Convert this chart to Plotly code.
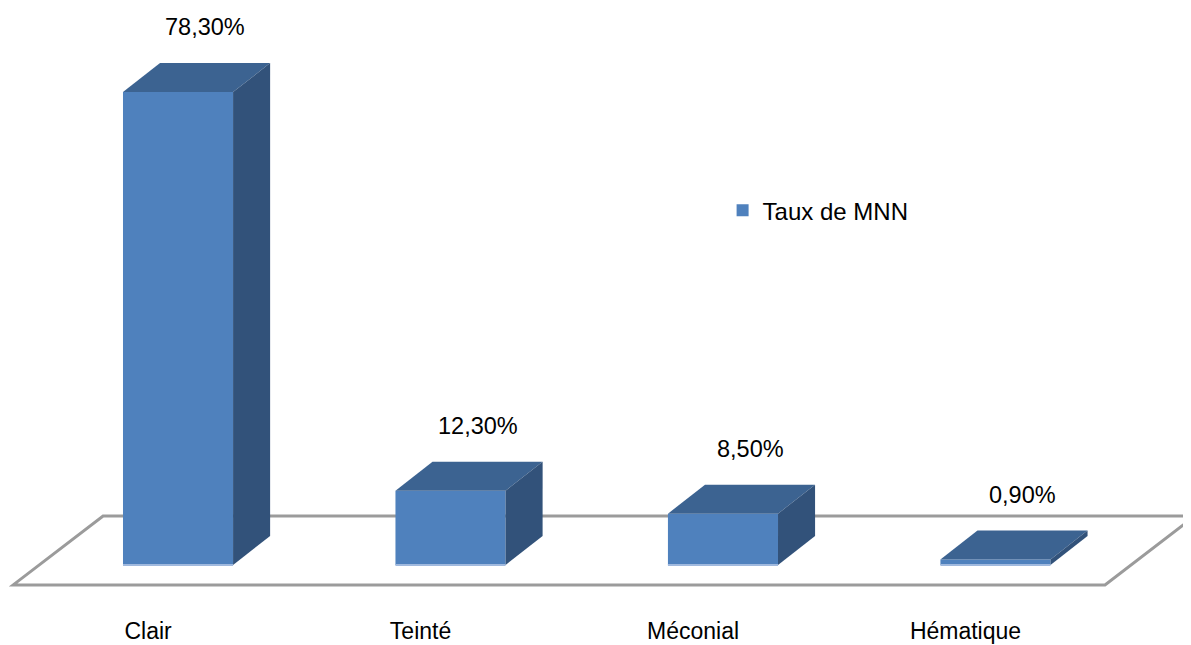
import plotly.graph_objects as go

categories = ['Clair', 'Teinté', 'Méconial', 'Hématique']
values = [78.3, 12.3, 8.5, 0.9]
value_labels = ['78,30%', '12,30%', '8,50%', '0,90%']
series_name = 'Taux de MNN'

front = 'rgb(79, 129, 189)'
top_col = 'rgb(60, 99, 145)'
side_col = 'rgb(50, 82, 122)'

pos = list(range(len(categories)))
bw = 0.404          # bar width (x units)
dx, dy = 0.136, 4.8  # 3D depth offset
font = 'Liberation Sans, Arial, sans-serif'

fig = go.Figure()
fig.add_trace(go.Bar(
    x=pos, y=values, width=bw, name=series_name,
    marker=dict(color=front, line=dict(width=0)),
    showlegend=True,
))

shapes = []
# floor (drawn behind)
fl, fr, fy0, fy1, fdx = -0.605, 3.402, -3.3, 8.1, 0.33
shapes.append(dict(
    type='path', xref='x', yref='y', layer='below',
    path=f'M{fl},{fy0} L{fr},{fy0} L{fr + fdx},{fy1} L{fl + fdx},{fy1} Z',
    line=dict(color='rgb(155,155,155)', width=3), fillcolor='white',
))
for p, v in zip(pos, values):
    xl, xr = p - bw / 2, p + bw / 2
    shapes.append(dict(
        type='path', xref='x', yref='y', layer='above',
        path=f'M{xl},{v} L{xl + dx},{v + dy} L{xr + dx},{v + dy} L{xr},{v} Z',
        line=dict(width=0), fillcolor=top_col,
    ))
    shapes.append(dict(
        type='path', xref='x', yref='y', layer='above',
        path=f'M{xr},0 L{xr},{v} L{xr + dx},{v + dy} L{xr + dx},{dy} Z',
        line=dict(width=0), fillcolor=side_col,
    ))
    shapes.append(dict(
        type='line', xref='x', yref='y', layer='above',
        x0=xl, x1=xr, y0=0, y1=0,
        line=dict(color='rgb(160,185,222)', width=2),
    ))

annotations = []
for p, v, t in zip(pos, values, value_labels):
    annotations.append(dict(
        x=p + 0.1, y=v + 10.7, xref='x', yref='y', text=t,
        showarrow=False, font=dict(size=23.5, color='black', family=font),
    ))

fig.update_layout(
    width=1191, height=645,
    margin=dict(l=0, r=0, t=0, b=38),
    paper_bgcolor='white', plot_bgcolor='white',
    shapes=shapes, annotations=annotations,
    font=dict(family=font, size=23, color='black'),
    xaxis=dict(
        range=[-0.624, 3.747],
        tickvals=[p - 0.11 for p in pos], ticktext=categories,
        showgrid=False, zeroline=False, showline=False, ticks='',
        tickfont=dict(size=23),
    ),
    yaxis=dict(
        range=[-8.28, 92.22],
        showgrid=False, zeroline=False, showline=False,
        showticklabels=False, ticks='',
    ),
    legend=dict(
        x=0.6, y=0.666, xanchor='left', yanchor='middle',
        font=dict(size=24), itemwidth=30, bgcolor='rgba(0,0,0,0)',
    ),
    showlegend=True,
)

fig.write_html('out.html')
